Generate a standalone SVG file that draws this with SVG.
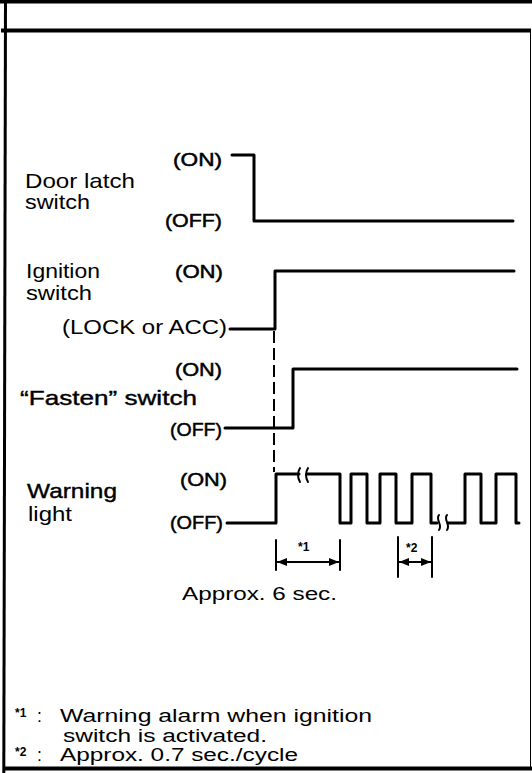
<svg xmlns="http://www.w3.org/2000/svg" width="532" height="773" viewBox="0 0 532 773">
<style>
  text { font-family: "Liberation Sans", Arial, Helvetica, sans-serif; fill: #000; }
  .lbl { font-size: 21px; }
  .st { font-size: 19px; stroke: #000; stroke-width: 0.5; }
  .hv { stroke: #000; stroke-width: 0.4; }
  .fn { font-size: 17.5px; }
  .ref { font-size: 12px; font-weight: bold; }
  .sig { fill: none; stroke: #000; stroke-width: 3; stroke-linejoin: round; stroke-linecap: round; }
  .thin { fill: none; stroke: #000; stroke-width: 2; stroke-linecap: round; }
  .dash { fill: none; stroke: #000; stroke-width: 2; stroke-dasharray: 12 5; }
  .frame { fill: none; stroke: #000; }
</style>
<defs>
  <marker id="ah" viewBox="0 0 10 8" refX="10" refY="4" markerWidth="10" markerHeight="8" markerUnits="userSpaceOnUse" orient="auto-start-reverse">
    <path d="M0,0 L10,4 L0,8 Z" fill="#000"/>
  </marker>
</defs>
<rect width="532" height="773" fill="#fff"/>

<g id="frame">
  <rect x="0" y="0" width="532" height="3.5" fill="#000"/>
  <line class="frame" x1="1" y1="30.5" x2="531" y2="30.5" stroke-width="4"/>
  <line class="frame" x1="5.5" y1="0" x2="3.8" y2="773" stroke-width="3"/>
  <line class="frame" x1="530.5" y1="32" x2="530.5" y2="767" stroke-width="1" stroke="#777"/>
  <line class="frame" x1="3" y1="768.5" x2="532" y2="768.5" stroke-width="4"/>
</g>

<g id="door-latch">
  <text class="lbl" x="25" y="188" textLength="110" lengthAdjust="spacingAndGlyphs">Door latch</text>
  <text class="lbl" x="25" y="209" textLength="65" lengthAdjust="spacingAndGlyphs">switch</text>
  <text class="st" x="173" y="166" textLength="49" lengthAdjust="spacingAndGlyphs">(ON)</text>
  <text class="st" x="165" y="227" textLength="57" lengthAdjust="spacingAndGlyphs">(OFF)</text>
  <path class="sig" d="M232,155 H254 V221 H513"/>
</g>

<g id="ignition-switch">
  <text class="lbl" x="26" y="278" textLength="74" lengthAdjust="spacingAndGlyphs">Ignition</text>
  <text class="lbl" x="26" y="300" textLength="66" lengthAdjust="spacingAndGlyphs">switch</text>
  <text class="st" x="175" y="278" textLength="48" lengthAdjust="spacingAndGlyphs">(ON)</text>
  <text class="lbl" x="62" y="334" textLength="165" lengthAdjust="spacingAndGlyphs">(LOCK or ACC)</text>
  <path class="sig" d="M230,329 H275 V271 H514"/>
</g>

<g id="fasten-switch">
  <text class="st" x="175" y="376" textLength="47" lengthAdjust="spacingAndGlyphs">(ON)</text>
  <text class="lbl hv" x="20" y="405" textLength="177" lengthAdjust="spacingAndGlyphs">“Fasten” switch</text>
  <text class="st" x="170" y="436" textLength="52" lengthAdjust="spacingAndGlyphs">(OFF)</text>
  <path class="sig" d="M225,428 H293 V369 H517"/>
</g>

<g id="warning-light">
  <text class="st" x="180" y="486" textLength="47" lengthAdjust="spacingAndGlyphs">(ON)</text>
  <text class="lbl hv" x="27" y="498" textLength="90" lengthAdjust="spacingAndGlyphs">Warning</text>
  <text class="lbl" x="28" y="521" textLength="44" lengthAdjust="spacingAndGlyphs">light</text>
  <text class="st" x="170" y="529" textLength="53" lengthAdjust="spacingAndGlyphs">(OFF)</text>
  <path class="sig" d="M227,523 H276 V474 H299"/>
  <path class="thin" d="M300,468 q-4,7 0,14"/>
  <path class="thin" d="M308,468 q-4,7 0,14"/>
  <path class="sig" d="M307,474 H340 V523 H351 V474 H367 V523 H380 V474 H396 V523 H412 V474 H431 V523 H437"/>
  <path class="thin" d="M439,515 c-4,4 4,10 0,15"/>
  <path class="thin" d="M447,515 c-4,4 4,10 0,15"/>
  <path class="sig" d="M448,523 H465 V474 H481 V523 H496 V474 H516 V523 H519"/>
</g>

<g id="connectors">
  <line class="dash" x1="274" y1="331" x2="274" y2="472"/>
  <line class="thin" x1="276" y1="540" x2="276" y2="570"/>
  <line class="thin" x1="340" y1="540" x2="340" y2="570"/>
  <line class="thin" x1="277" y1="562" x2="339" y2="562" marker-start="url(#ah)" marker-end="url(#ah)"/>
  <line class="thin" x1="398" y1="537" x2="398" y2="577"/>
  <line class="thin" x1="432" y1="537" x2="432" y2="577"/>
  <line class="thin" x1="399" y1="562" x2="431" y2="562" marker-start="url(#ah)" marker-end="url(#ah)"/>
</g>

<g id="dimension-labels">
  <text class="ref" x="298" y="551">*1</text>
  <text class="ref" x="406" y="552">*2</text>
  <text class="fn" x="182" y="600" font-size="20" textLength="155" lengthAdjust="spacingAndGlyphs">Approx. 6 sec.</text>
</g>

<g id="footnotes">
  <text class="ref" x="15" y="717" font-size="11">*1</text>
  <text class="fn" x="37" y="722">:</text>
  <text class="fn" x="60" y="722" textLength="312" lengthAdjust="spacingAndGlyphs">Warning alarm when ignition</text>
  <text class="fn" x="63" y="742" textLength="204" lengthAdjust="spacingAndGlyphs">switch is activated.</text>
  <text class="ref" x="15" y="756" font-size="11">*2</text>
  <text class="fn" x="37" y="761">:</text>
  <text class="fn" x="60" y="761" textLength="238" lengthAdjust="spacingAndGlyphs">Approx. 0.7 sec./cycle</text>
</g>
</svg>
